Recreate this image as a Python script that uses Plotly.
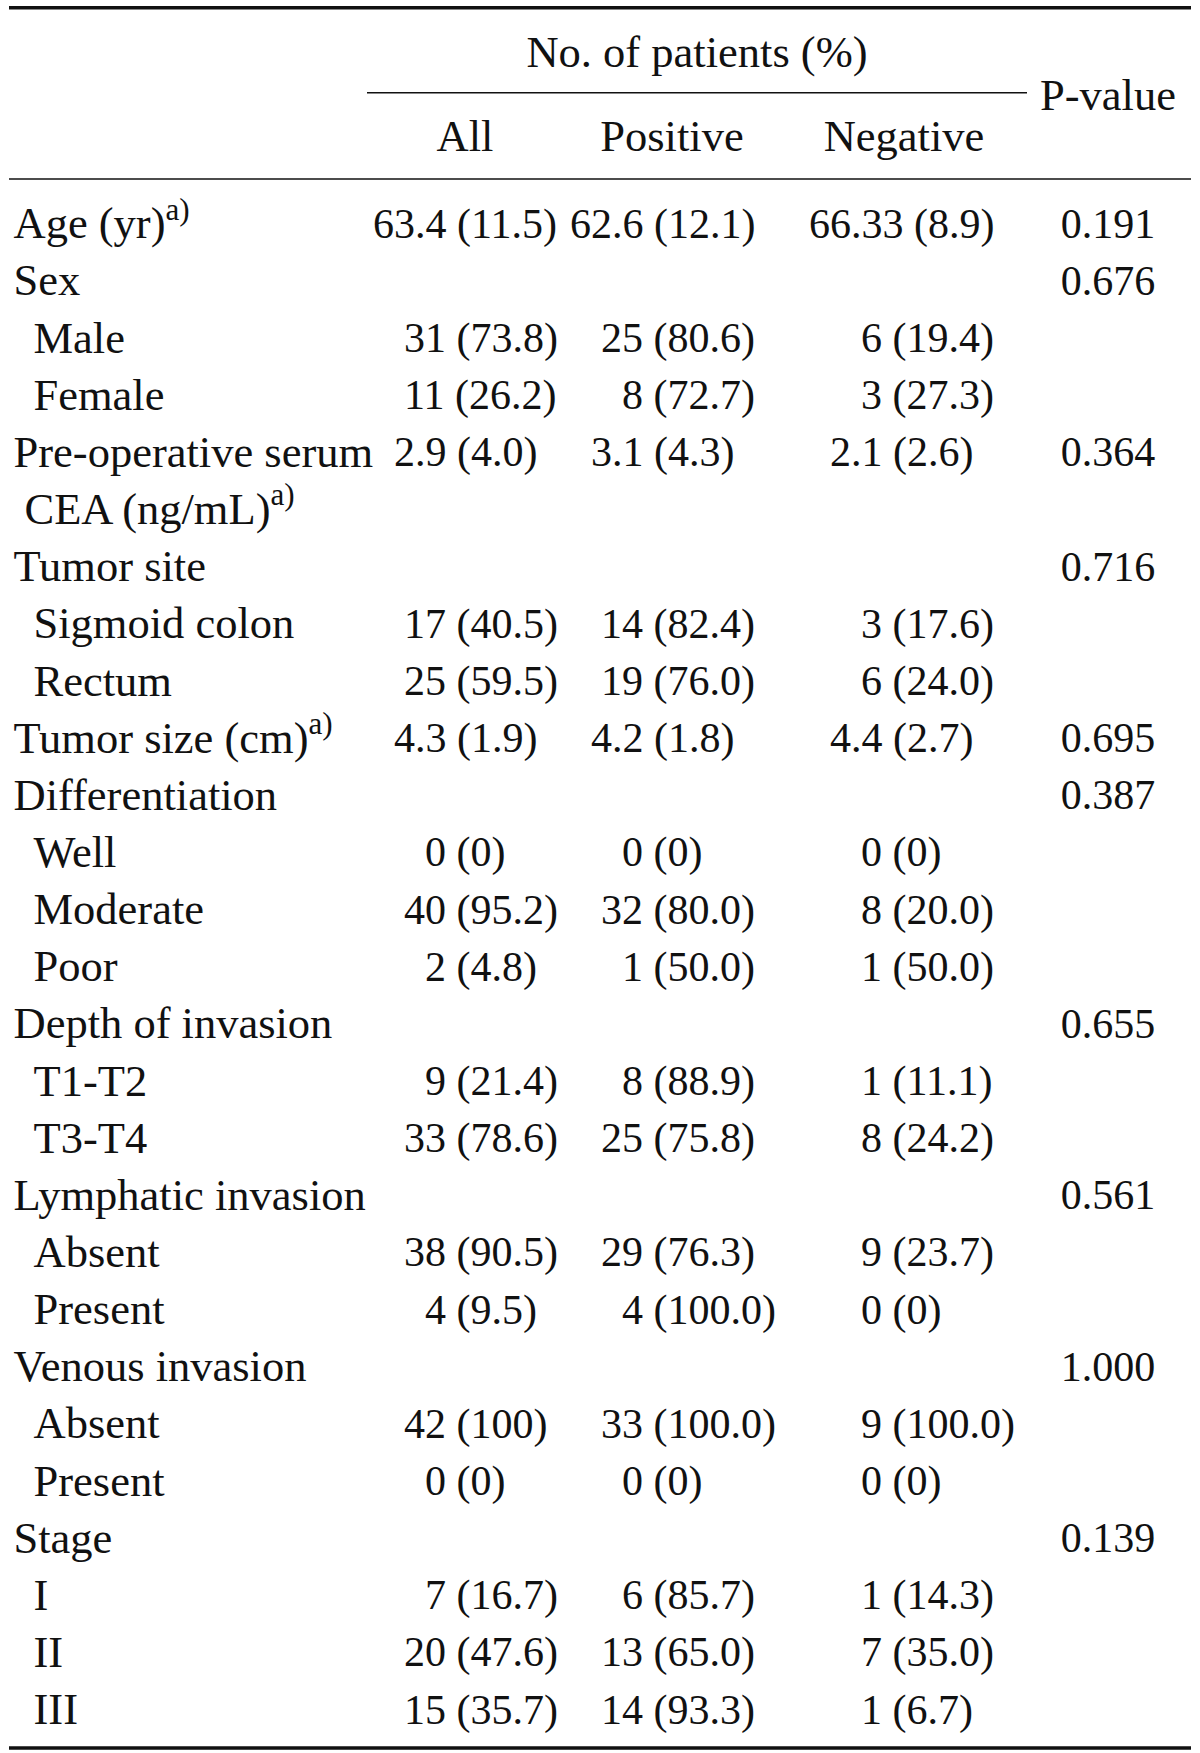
import plotly.graph_objects as go

# ---------------- data ----------------
labels = [
    "Age (yr)<sup>a)</sup>", "Sex", "Male", "Female",
    "Pre-operative serum", "CEA (ng/mL)<sup>a)</sup>",
    "Tumor site", "Sigmoid colon", "Rectum",
    "Tumor size (cm)<sup>a)</sup>",
    "Differentiation", "Well", "Moderate", "Poor",
    "Depth of invasion", "T1-T2", "T3-T4",
    "Lymphatic invasion", "Absent", "Present",
    "Venous invasion", "Absent", "Present",
    "Stage", "I", "II", "III",
]
indent = [0, 0, 1, 1, 0, 2, 0, 1, 1, 0, 0, 1, 1, 1, 0, 1, 1, 0, 1, 1, 0, 1, 1, 0, 1, 1, 1]
all_vals = ["63.4 (11.5)", "", "31 (73.8)", "11 (26.2)", "2.9 (4.0)", "", "", "17 (40.5)", "25 (59.5)",
            "4.3 (1.9)", "", "0 (0)", "40 (95.2)", "2 (4.8)", "", "9 (21.4)", "33 (78.6)", "",
            "38 (90.5)", "4 (9.5)", "", "42 (100)", "0 (0)", "", "7 (16.7)", "20 (47.6)", "15 (35.7)"]
pos_vals = ["62.6 (12.1)", "", "25 (80.6)", "8 (72.7)", "3.1 (4.3)", "", "", "14 (82.4)", "19 (76.0)",
            "4.2 (1.8)", "", "0 (0)", "32 (80.0)", "1 (50.0)", "", "8 (88.9)", "25 (75.8)", "",
            "29 (76.3)", "4 (100.0)", "", "33 (100.0)", "0 (0)", "", "6 (85.7)", "13 (65.0)", "14 (93.3)"]
neg_vals = ["66.33 (8.9)", "", "6 (19.4)", "3 (27.3)", "2.1 (2.6)", "", "", "3 (17.6)", "6 (24.0)",
            "4.4 (2.7)", "", "0 (0)", "8 (20.0)", "1 (50.0)", "", "1 (11.1)", "8 (24.2)", "",
            "9 (23.7)", "0 (0)", "", "9 (100.0)", "0 (0)", "", "1 (14.3)", "7 (35.0)", "1 (6.7)"]
p_vals = ["0.191", "0.676", "", "", "0.364", "", "0.716", "", "", "0.695", "0.387", "", "", "",
          "0.655", "", "", "0.561", "", "", "1.000", "", "", "0.139", "", "", ""]
group_headers = ["All", "Positive", "Negative"]
spanner = "No. of patients (%)"
p_header = "P-value"

# ---------------- style / layout ----------------
W, H = 1200, 1753
FS_TXT = 44.5
FS_NUM = 42
FONT = "Liberation Serif"
INK = "#111111"
ROW_H = 57.15          # px per row
ROW0_PX = 223.7        # pixel centre of first body row
TEXT_DY = 3.5          # baseline nudge for text (px)
DIGIT_W = 0.5 * FS_NUM
label_x = [13.5, 33.5, 24.5]          # by indent level
col_base = [425, 622, 861]            # left edge of a one-digit count
col_head_x = [465, 672, 904]
CONT_OFF = 31
p_x = 1108
spanner_x = 697

def row_y(px):
    return (px - ROW0_PX) / ROW_H

def text_y(px):
    return row_y(px + TEXT_DY)

y_top = row_y(0)
y_bot = row_y(H)
dy = TEXT_DY / ROW_H

def start_x(base, txt):
    first = txt.split(" ")[0]
    intpart = first.split(".")[0]
    off = (len(intpart) - 1) * DIGIT_W
    if "." in first:
        off += CONT_OFF
    return base - off

fig = go.Figure()
font_txt = dict(family=FONT, size=FS_TXT, color=INK)
font_num = dict(family=FONT, size=FS_NUM, color=INK)

rows = list(range(len(labels)))
# labels
fig.add_trace(go.Scatter(
    x=[label_x[i] for i in indent], y=[r + dy for r in rows], text=labels, mode="text",
    textposition="middle right", textfont=font_txt, hoverinfo="skip", showlegend=False))
# value columns
for c, vals in enumerate([all_vals, pos_vals, neg_vals]):
    xs, ys, ts = [], [], []
    for r, v in enumerate(vals):
        if v:
            xs.append(start_x(col_base[c], v)); ys.append(r + dy); ts.append(v)
    fig.add_trace(go.Scatter(x=xs, y=ys, text=ts, mode="text", textposition="middle right",
                             textfont=font_num, hoverinfo="skip", showlegend=False))
# p-values
pr = [r for r, v in enumerate(p_vals) if v]
fig.add_trace(go.Scatter(x=[p_x] * len(pr), y=[r + dy for r in pr], text=[p_vals[r] for r in pr],
                         mode="text", textposition="middle center", textfont=font_num,
                         hoverinfo="skip", showlegend=False))
# headers
fig.add_trace(go.Scatter(x=col_head_x, y=[text_y(136.4)] * 3, text=group_headers, mode="text",
                         textposition="middle center", textfont=font_txt, hoverinfo="skip", showlegend=False))
fig.add_trace(go.Scatter(x=[spanner_x, p_x], y=[text_y(52.6), text_y(95.5)], text=[spanner, p_header],
                         mode="text", textposition="middle center", textfont=font_txt,
                         hoverinfo="skip", showlegend=False))

# rules
rules = [
    (9, 1191, row_y(7.8), 3.5),
    (367, 1027, row_y(92.8), 1.5),
    (9, 1191, row_y(179.0), 1.5),
    (9, 1191, row_y(1748.0), 3.5),
]
for x0, x1, yy, w in rules:
    fig.add_shape(type="line", xref="x", yref="y", x0=x0, x1=x1, y0=yy, y1=yy,
                  line=dict(color=INK, width=w))

fig.update_layout(
    width=W, height=H, margin=dict(l=0, r=0, t=0, b=0),
    paper_bgcolor="white", plot_bgcolor="white",
    xaxis=dict(range=[0, W], visible=False, fixedrange=True),
    yaxis=dict(range=[y_bot, y_top], visible=False, fixedrange=True),
)
fig.write_html("out.html", config={"displayModeBar": False},
               post_script="document.body.style.margin='0';")
